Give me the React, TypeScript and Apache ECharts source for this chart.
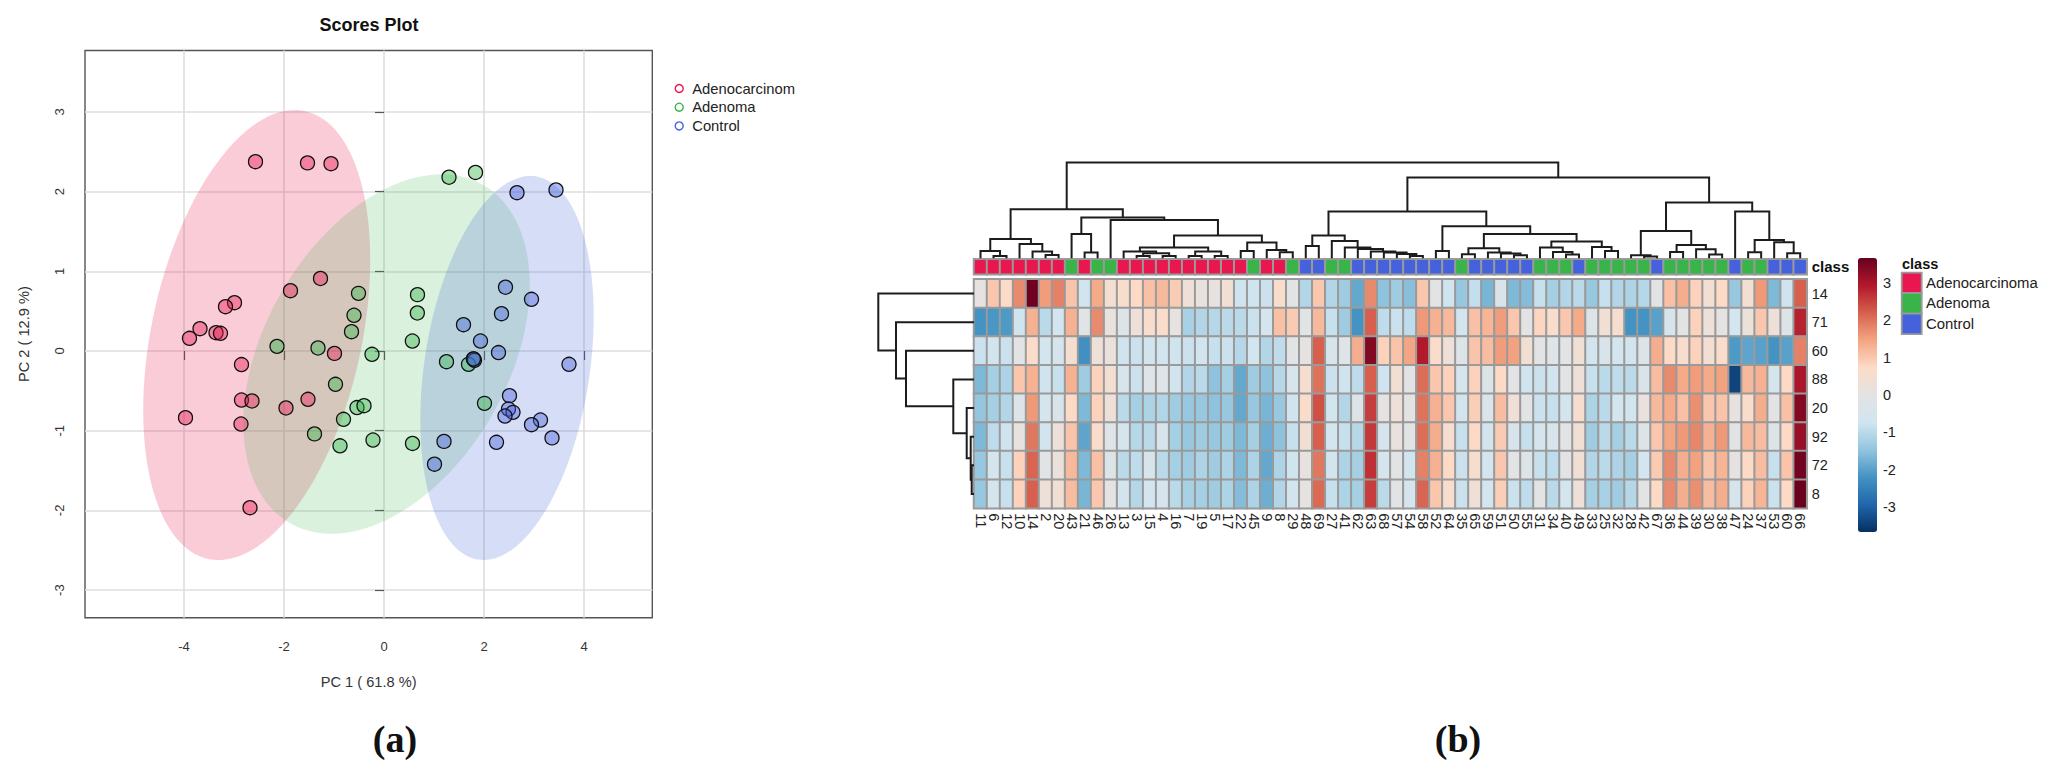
import React, { useEffect, useRef } from "react";
import * as echarts from "echarts";

const FONT = "Liberation Sans";
const classNames = ["Adenocarcinoma", "Adenoma", "Control"];
const clippedLegendLabels = ["Adenocarcinom", "Adenoma", "Control"];
const classColors = ["#E8174F", "#38B449", "#4562DC"];
const ellipseOpacity = [0.22, 0.19, 0.22];

const adenocarcinomaScores = [[-2.57,2.375],[-1.53,2.36],[-1.06,2.35],[-1.27,0.91],[-1.87,0.757],[-2.99,0.606],[-3.17,0.556],[-3.68,0.28],[-3.89,0.159],[-3.36,0.23],[-3.27,0.222],[-0.99,-0.03],[-2.85,-0.17],[-2.85,-0.615],[-2.64,-0.627],[-1.96,-0.715],[-1.52,-0.606],[-3.97,-0.837],[-2.86,-0.916],[-2.68,-1.966]];
const adenomaScores = [[-0.51,0.723],[-0.6,0.448],[-0.65,0.242],[-2.14,0.058],[-1.32,0.038],[-0.24,-0.042],[-0.97,-0.418],[1.3,2.18],[1.83,2.24],[0.67,0.707],[0.667,0.477],[0.567,0.125],[1.25,-0.134],[1.69,-0.167],[1.79,-0.1],[-0.54,-0.71],[-0.4,-0.686],[-0.81,-0.857],[-1.39,-1.04],[-0.22,-1.117],[-0.88,-1.19],[0.57,-1.16],[2.01,-0.657]];
const controlScores = [[2.66,1.986],[3.44,2.02],[2.43,0.8],[2.95,0.648],[2.35,0.468],[1.59,0.33],[1.93,0.125],[2.29,-0.02],[1.81,-0.117],[1.79,-0.1],[3.7,-0.167],[2.51,-0.56],[2.49,-0.728],[2.58,-0.77],[2.42,-0.816],[3.13,-0.866],[2.95,-0.924],[3.36,-1.09],[1.2,-1.134],[2.25,-1.146],[1.01,-1.42]];
const scoreSeries = [adenocarcinomaScores, adenomaScores, controlScores];

// centre x, centre y, half width, half height, correlation
const confidenceEllipses = [
  [-2.546, 0.2, 2.27, 2.823, 0.335],
  [0.05, -0.038, 2.864, 2.255, 0.385],
  [2.46, -0.213, 1.734, 2.409, 0.27],
];
const xTicks = [-4, -2, 0, 2, 4];
const yTicks = [-3, -2, -1, 0, 1, 2, 3];

const columnLabels = ["11","6","12","10","14","2","20","43","21","46","26","13","3","15","4","16","7","19","5","17","22","45","9","8","29","48","69","27","41","62","63","68","57","54","58","52","64","35","65","59","51","50","55","31","34","40","49","33","25","32","28","42","67","36","44","39","30","38","47","24","37","53","60","66"];
const rowLabels = ["14","71","60","88","20","92","72","8"];
const columnClasses = [0,0,0,0,0,0,0,1,0,1,1,0,0,0,0,0,0,0,0,0,0,1,0,0,1,2,2,1,1,2,2,2,2,2,2,2,2,1,2,2,2,2,2,1,1,1,2,1,1,1,1,1,2,1,1,1,1,1,2,1,1,2,2,2];

const row14 = [0.05,1,0.7,1.75,3.6,1.55,1.85,1.05,-0.7,1.4,0.45,0.6,0.75,1.1,1.2,0.95,0.3,0.15,0.1,0.4,-0.75,-0.75,-0.8,0.6,-0.05,-1.1,1,-1.1,-1.3,-1.9,1.75,-1.5,-1.3,-1.55,1,-0.1,-0.75,-1.4,-0.9,-1.7,-0.4,-1.65,-1.6,-0.85,-1.25,-1.1,-1,-1.4,-0.85,-1.1,-1.15,-1.05,-0.1,1.1,1.35,0.85,0.45,0.75,-1.4,0.45,1.6,-1.65,-0.75,2.2];
const row71 = [-2.2,-2.15,-2.1,-0.75,1.3,-1,-0.65,1.3,-0.05,1.75,0.15,-0.25,0.3,0.6,0.65,0.1,-1.2,-1.1,-1.05,-1,-1,-0.8,-0.6,1.1,0.95,-0.1,1.2,-0.85,-1.3,-2.2,2.2,-0.95,-0.8,-0.95,1.6,1.3,1.2,-0.7,1.1,1.25,1.55,1,0,0.8,0.6,1,1.4,-0.25,0.4,0.5,-2.2,-2.2,-2,-0.5,-0.1,0.85,0.25,0.05,-0.65,0.2,1,0.25,-0.3,2.85];
const row60 = [-0.8,-0.7,-0.8,-0.1,0.7,-0.65,-0.55,0.5,-2.25,0.25,0.2,-0.75,-0.8,-0.7,-0.7,-0.75,-0.8,-0.7,-0.85,-0.8,-1.05,-0.65,-1.1,-0.95,-0.1,0.05,2.2,-0.5,-0.2,1.35,3.4,0.85,1.05,1.45,2.93,0.65,0.3,-0.3,1.05,1.15,1.55,1.5,0.4,-0.1,-0.2,-0.1,0.4,-0.7,-0.4,-0.65,-0.7,-0.3,1.35,0.75,0.6,0.85,0.45,0.65,-2.1,-1.95,-2,-2.2,-2,1.85];
const row88 = [-1.65,-1.25,-1.15,1,1.3,-0.75,-0.85,1.3,-1.3,0.85,0.45,-0.5,-0.8,-0.2,-0.2,-0.7,-1.1,-1,-1.5,-1.25,-1.9,-1.3,-1.5,-1.05,-0.55,0.5,2,-0.8,-0.75,-0.95,2.2,-0.75,0.45,-0.1,2.05,1,0.85,-0.55,0.85,-0.3,0.75,-0.05,-0.75,-0.8,-0.7,-0.1,0.3,-0.85,-1,-0.95,-1,-0.4,1.15,1.75,1.4,1.55,1.4,1.5,-3.4,1.2,1.3,-0.6,0.75,3];
const row20 = [-1.45,-1.25,-1.1,-0.25,1.6,-0.6,-0.4,0.75,-1.65,0.85,0.3,-1,-1.25,-1.15,-1.1,-1.3,-1.4,-1.4,-1.5,-1.4,-1.9,-1.4,-1.7,-1.4,-0.75,0.65,2.35,-0.7,-1.1,-0.3,2.55,0.05,0.3,0,2,1.3,1,-0.7,0.9,-0.35,1.15,0.35,-0.1,-0.8,-0.85,-0.7,0.5,-1.15,-1,-0.65,-0.7,0.15,1.2,1.4,1.1,1.7,1,1.05,0.1,0.65,1.35,0,1.1,3.4];
const row92 = [-1.65,-0.95,-0.75,0.1,1.95,-0.7,0.3,1.05,-1.95,0.65,-0.2,-0.6,-1.05,-1,-0.5,-1.25,-1.4,-1.3,-1.4,-1.3,-1.65,-1.25,-1.8,-1.5,-0.85,0.4,2.2,-0.65,-0.85,-1.05,2.6,-0.55,0.15,-0.1,2.05,1.35,0.5,-0.85,0.75,-0.7,0.95,-0.5,-0.85,-0.6,-0.45,-0.1,0.4,-1.3,-1,-1.25,-1,-0.3,1,1.45,1.6,1.8,1.3,1.6,-0.1,1.2,1.15,-0.3,0.75,3.2];
const row72 = [-1.4,-0.6,-0.85,0.85,2.15,-0.1,0.2,1.2,-1.65,1.1,-0.3,-1,-0.95,-0.5,-1,-1.25,-1.3,-1.15,-1.3,-1.15,-1.65,-1.15,-1.9,-1.15,-0.75,0.1,1.95,-0.7,-1.15,-1.25,2.7,-0.6,-0.05,-0.7,1.85,1.3,0.75,-0.8,0.55,-0.65,1,-0.1,-0.3,-0.85,-0.95,-0.1,0.4,-1.1,-1,-1.15,-1.25,-0.65,0.95,1.75,1.35,1.5,1.05,1.25,0.05,0.75,1.15,-0.85,1.05,3.55];
const row8 = [-1.4,-0.6,-0.85,0.85,2.2,0.25,0.4,1.15,-1.7,1,0,-0.7,-1.05,-0.65,-0.55,-1,-1.2,-1.25,-1.3,-1.15,-1.6,-1.15,-1.8,-1.1,-0.7,0.05,2.1,-0.85,-1.15,-1.25,2.55,-1,-0.1,-0.55,2.15,1,0.55,-0.8,0.35,-0.65,0.9,-0.8,-0.95,-0.1,-1,-0.65,0.3,-1.25,-1.2,-1.3,-1.05,-0.1,0.75,1.75,1.35,1.7,1.15,1.35,-0.5,0.85,1.25,-0.8,0.75,3.65];
const heatmapRows = [row14, row71, row60, row88, row20, row92, row72, row8];
const colorbarTicks = [-3, -2, -1, 0, 1, 2, 3];
const heatColors = ["#053061","#2166ac","#4393c3","#92c5de","#d1e5f0","#e3e3e3","#fddbc7","#f4a582","#d6604d","#b2182b","#67001f"];
const heatLimit = 3.67;

// Dendrograms: [merge height, left, right]; 0 is a leaf.
type Node = number | [number, Node, Node];
const leftColumnBranch: Node = [49,
  [19.3, [7.3, 0, [2.3, 0, 0]], [14.3, 0, [6.7, 0, [3.3, 0, 0]]]],
  [40.7, [24.3, 0, [5.7, 0, 0]],
    [38.3, 0, [22.7,
      [10.7, [6.7, 0, [5, [2.3, 0, 0], [2.3, 0, 0]]], [6.7, [2.3, 0, 0], [2.3, 0, 0]]],
      [15.7, [7.3, 0, 0], [8.3, 0, [6, 0, 0]]]]]]];
const rightColumnBranch: Node = [80.7,
  [46.7,
    [22.7, [12.3, 0, 0], [17.3, 0, [10.7, 0, [9.3, 0, [6.7, 0, [5.7, 0, [4.3, 0, [2.3, 0, 0]]]]]]]],
    [32, [7.3, 0, 0], [24.3,
      [10, [4, 0, 0], [5.7, 0, [4.7, 0, [3, 0, 0]]]],
      [16.7, [10.7, 0, [6.3, 0, [3.7, 0, 0]]], [11.3, 0, [7.3, 0, 0]]]]]],
  [55.7,
    [27.3, [3, 0, [1.7, 0, 0]], [13.3, [6.3, 0, 0], [9, 0, [3.7, 0, 0]]]],
    [46.7, 0, [18.3, [6, 0, 0], [16, 0, [5, 0, 0]]]]]];
const columnTree: Node = [95.7, leftColumnBranch, rightColumnBranch];
const rowTree: Node = [95.7, 0, [78, 0, [68, 0, [20.7, 0, [7.3, 0, [3.3, 0, [2.3, 0, 0]]]]]]];

function flatten(tree: Node) {
  const out: number[][] = [];
  let leaf = 0;
  const walk = (n: Node): [number, number] => {
    if (typeof n === "number") { leaf += 1; return [leaf - 0.5, 0]; }
    const a = walk(n[1]);
    const b = walk(n[2]);
    out.push([a[0], a[1], n[0], b[0], b[1]]);
    return [(a[0] + b[0]) / 2, n[0]];
  };
  walk(tree);
  return out;
}

const txt = "#222";
const dendroStroke = { fill: "none", stroke: "#1c1c1c", lineWidth: 2 };

function dendroItem(horizontal: boolean) {
  return (_: any, api: any) => {
    const [p, hl, h, q, hr] = [0, 1, 2, 3, 4].map((i) => api.value(i));
    const c = (pos: number, height: number) => api.coord(horizontal ? [pos, height] : [height, pos]);
    return { type: "polyline", shape: { points: [c(p, hl), c(p, h), c(q, h), c(q, hr)] }, style: dendroStroke };
  };
}

function ellipseItem(params: any, api: any) {
  const cx = api.value(0), cy = api.value(1), wx = api.value(2), hy = api.value(3), rho = api.value(4);
  const points: number[][] = [];
  for (let k = 0; k < 120; k++) {
    const t = (k / 120) * Math.PI * 2;
    points.push(api.coord([cx + wx * Math.cos(t), cy + hy * (rho * Math.cos(t) + Math.sqrt(1 - rho * rho) * Math.sin(t))]));
  }
  return { type: "polygon", shape: { points }, style: { fill: classColors[params.dataIndex], opacity: ellipseOpacity[params.dataIndex] } };
}

function buildOption() {
  const hidden = { show: false };
  const cellStyle = { borderColor: "#9a9a9a", borderWidth: 2 };
  const rgba = (hex: string, a: number) => {
    const n = parseInt(hex.slice(1), 16);
    return `rgba(${n >> 16},${(n >> 8) & 255},${n & 255},${a})`;
  };
  const legendY = [272.7, 293.2, 313.7];
  return {
    animation: false,
    backgroundColor: "#ffffff",
    textStyle: { fontFamily: FONT },
    title: [
      { text: "Scores Plot", left: 364, top: 11, textAlign: "center", textStyle: { fontFamily: FONT, fontSize: 18, fontWeight: "bold", color: "#111" } },
      { text: "(a)", left: 390, top: 715, textAlign: "center", textStyle: { fontFamily: "Liberation Serif", fontSize: 38, fontWeight: "bold", color: "#111" } },
      { text: "(b)", left: 1453, top: 715, textAlign: "center", textStyle: { fontFamily: "Liberation Serif", fontSize: 38, fontWeight: "bold", color: "#111" } },
    ],
    legend: {
      left: 674.5, top: 81, orient: "vertical", itemWidth: 8, itemHeight: 8, itemGap: 3.7, selectedMode: false, padding: 0,
      data: classNames.map((name, i) => ({ name, icon: "circle", itemStyle: { color: "transparent", borderColor: classColors[i], borderWidth: 1.4 } })),
      formatter: (name: string) => clippedLegendLabels[classNames.indexOf(name)],
      textStyle: { fontFamily: FONT, fontSize: 14.8, color: txt, padding: [0, 0, 0, 4] },
    },
    grid: [
      { left: 85, top: 50.5, width: 567.3, height: 567.2, show: true, borderColor: "#555", borderWidth: 1.4, backgroundColor: "transparent" },
      { left: 974, top: 259.3, width: 832.7, height: 15 },
      { left: 974, top: 279.3, width: 832.7, height: 229 },
      { left: 974, top: 160, width: 832.7, height: 98.3 },
      { left: 877, top: 279.3, width: 97, height: 229 },
      { left: 1877, top: 258, width: 1, height: 274 },
    ],
    xAxis: [
      { gridIndex: 0, type: "value", min: -5.98, max: 5.366, axisLine: hidden,
        axisTick: { length: 9, lineStyle: { color: "#555", width: 1.2 }, customValues: xTicks },
        splitLine: { show: true, lineStyle: { color: "#dedede", width: 1.6 } },
        axisLabel: { customValues: xTicks, margin: 22, fontSize: 13, color: "#333", fontFamily: FONT },
        name: "PC 1 ( 61.8 %)", nameLocation: "middle", nameGap: 57, nameTextStyle: { fontSize: 14.6, color: "#333", fontFamily: FONT } },
      { gridIndex: 1, type: "category", data: columnLabels, axisLine: hidden, axisTick: hidden, axisLabel: hidden, splitLine: hidden },
      { gridIndex: 2, type: "category", data: columnLabels, position: "bottom", axisLine: hidden, axisTick: hidden, splitLine: hidden,
        axisLabel: { interval: 0, rotate: -90, margin: 5, fontSize: 14.5, color: txt, fontFamily: FONT } },
      { gridIndex: 3, type: "value", min: 0, max: 64, show: false },
      { gridIndex: 4, type: "value", min: 0, max: 97, inverse: true, show: false },
      { gridIndex: 5, type: "value", min: 0, max: 1, show: false },
    ],
    yAxis: [
      { gridIndex: 0, type: "value", min: -3.346, max: 3.77, axisLine: hidden,
        axisTick: { length: 9, lineStyle: { color: "#555", width: 1.2 }, customValues: yTicks },
        splitLine: { show: true, lineStyle: { color: "#dedede", width: 1.6 } },
        axisLabel: { customValues: yTicks, rotate: 90, margin: 19, fontSize: 13, color: "#333", fontFamily: FONT },
        name: "PC 2 ( 12.9 %)", nameLocation: "middle", nameGap: 54, nameTextStyle: { fontSize: 14.6, color: "#333", fontFamily: FONT } },
      { gridIndex: 1, type: "category", data: ["class"], position: "right", axisLine: hidden, axisTick: hidden, splitLine: hidden,
        axisLabel: { margin: 5, fontSize: 15, fontWeight: "bold", color: "#111", fontFamily: FONT } },
      { gridIndex: 2, type: "category", data: rowLabels, inverse: true, position: "right", axisLine: hidden, axisTick: hidden, splitLine: hidden,
        axisLabel: { interval: 0, margin: 5, fontSize: 14.5, color: txt, fontFamily: FONT } },
      { gridIndex: 3, type: "value", min: 0, max: 98.3, show: false },
      { gridIndex: 4, type: "value", min: 0, max: 8, inverse: true, show: false },
      { gridIndex: 5, type: "value", min: -heatLimit, max: heatLimit, position: "right", axisLine: hidden, axisTick: hidden, splitLine: hidden,
        axisLabel: { customValues: colorbarTicks, margin: 5, fontSize: 14.5, color: txt, fontFamily: FONT } },
    ],
    visualMap: [
      { type: "continuous", seriesIndex: 5, dimension: 2, min: -heatLimit, max: heatLimit, calculable: false, show: true,
        left: 1858, top: 258, itemWidth: 19, itemHeight: 274, padding: 0, text: null, inRange: { color: heatColors } },
      { type: "piecewise", seriesIndex: 4, dimension: 2, show: false,
        pieces: classNames.map((_, i) => ({ value: i, color: classColors[i] })) },
    ],
    series: [
      { type: "custom", name: "Ellipses", xAxisIndex: 0, yAxisIndex: 0, renderItem: ellipseItem, data: confidenceEllipses, silent: true, z: 2 },
      ...classNames.map((name, i) => ({
        type: "scatter", name, xAxisIndex: 0, yAxisIndex: 0, data: scoreSeries[i], symbolSize: 14, z: 3,
        itemStyle: { color: rgba(classColors[i], 0.42), borderColor: "#111", borderWidth: 1.3, opacity: 1 },
      })),
      { type: "heatmap", xAxisIndex: 1, yAxisIndex: 1, itemStyle: cellStyle, silent: true,
        data: columnClasses.map((c, i) => [i, 0, c]) },
      { type: "heatmap", xAxisIndex: 2, yAxisIndex: 2, itemStyle: cellStyle, silent: true,
        data: heatmapRows.flatMap((row, r) => row.map((v, c) => [c, r, v])) },
      { type: "custom", xAxisIndex: 3, yAxisIndex: 3, renderItem: dendroItem(true), data: flatten(columnTree), silent: true, clip: false },
      { type: "custom", xAxisIndex: 4, yAxisIndex: 4, renderItem: dendroItem(false), data: flatten(rowTree), silent: true, clip: false },
    ],
    graphic: [
      { type: "text", x: 1902, y: 256, style: { text: "class", fontFamily: FONT, fontSize: 14.5, fontWeight: "bold", fill: "#111" } },
      ...classNames.flatMap((name, i) => [
        { type: "rect", shape: { x: 1901.7, y: legendY[i], width: 20, height: 20.5 }, style: { fill: classColors[i], stroke: "#9a9a9a", lineWidth: 1.8 } },
        { type: "text", x: 1926, y: legendY[i] + 2.5, style: { text: name, fontFamily: FONT, fontSize: 14.9, fill: txt } },
      ]),
    ],
  };
}

export default function App() {
  const ref = useRef<HTMLDivElement>(null);
  useEffect(() => {
    const chart = echarts.init(ref.current!, undefined, { renderer: "svg" });
    chart.setOption(buildOption() as any);
    return () => chart.dispose();
  }, []);
  return <div ref={ref} style={{ position: "absolute", left: 0, top: 0, width: 2055, height: 775 }} />;
}
